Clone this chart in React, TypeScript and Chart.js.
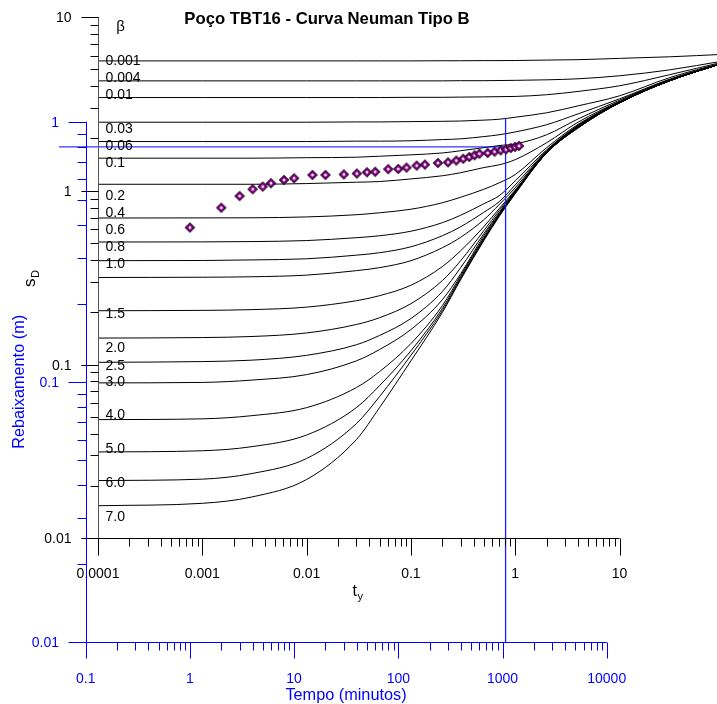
import React, { useEffect, useRef } from 'react';
import { Chart, registerables } from 'chart.js';

Chart.register(...registerables);

// ---------- Type-curve data (Neuman type B): s_D vs t_y ----------
const tY = [1e-4, 1e-3, 3e-3, 0.01, 0.03, 0.05, 0.1, 0.2, 0.3, 0.5, 0.7, 1, 2, 4, 10, 30, 100];

const sD_b0_001 = [5.59, 5.59, 5.59, 5.59, 5.59, 5.59, 5.59, 5.60, 5.60, 5.61, 5.61, 5.62, 5.65, 5.68, 5.78, 5.90, 6.10];
const sD_b0_004 = [4.29, 4.29, 4.29, 4.29, 4.29, 4.29, 4.29, 4.29, 4.30, 4.30, 4.31, 4.32, 4.35, 4.41, 4.59, 4.96, 5.59];
const sD_b0_01 = [3.44, 3.44, 3.44, 3.44, 3.44, 3.44, 3.45, 3.45, 3.46, 3.47, 3.48, 3.49, 3.57, 3.73, 4.02, 4.65, 5.52];
const sD_b0_03 = [2.48, 2.48, 2.48, 2.48, 2.49, 2.49, 2.50, 2.51, 2.52, 2.55, 2.58, 2.65, 2.81, 3.08, 3.52, 4.47, 5.48];
const sD_b0_06 = [1.92, 1.92, 1.92, 1.92, 1.93, 1.93, 1.94, 1.97, 1.99, 2.05, 2.10, 2.18, 2.40, 2.77, 3.38, 4.38, 5.45];
const sD_b0_1 = [1.54, 1.54, 1.54, 1.55, 1.56, 1.58, 1.61, 1.65, 1.70, 1.77, 1.82, 1.86, 2.10, 2.59, 3.32, 4.35, 5.45];
const sD_b0_2 = [1.09, 1.09, 1.09, 1.10, 1.12, 1.13, 1.17, 1.22, 1.27, 1.36, 1.41, 1.51, 1.89, 2.48, 3.27, 4.32, 5.45];
const sD_b0_4 = [0.697, 0.698, 0.699, 0.707, 0.728, 0.747, 0.783, 0.853, 0.918, 1.02, 1.11, 1.24, 1.77, 2.41, 3.25, 4.32, 5.45];
const sD_b0_6 = [0.507, 0.508, 0.510, 0.517, 0.537, 0.551, 0.585, 0.655, 0.723, 0.842, 0.936, 1.14, 1.72, 2.38, 3.25, 4.29, 5.45];
const sD_b0_8 = [0.396, 0.397, 0.400, 0.406, 0.426, 0.440, 0.476, 0.551, 0.621, 0.752, 0.864, 1.08, 1.70, 2.37, 3.23, 4.29, 5.45];
const sD_b1_0 = [0.317, 0.318, 0.320, 0.327, 0.347, 0.361, 0.396, 0.470, 0.540, 0.681, 0.831, 1.04, 1.69, 2.35, 3.23, 4.29, 5.45];
const sD_b1_5 = [0.204, 0.205, 0.207, 0.214, 0.233, 0.249, 0.286, 0.366, 0.452, 0.621, 0.788, 1.01, 1.68, 2.33, 3.21, 4.29, 5.45];
const sD_b2_0 = [0.142, 0.143, 0.145, 0.152, 0.170, 0.186, 0.224, 0.304, 0.396, 0.589, 0.767, 1.00, 1.67, 2.33, 3.21, 4.29, 5.45];
const sD_b2_5 = [0.103, 0.104, 0.106, 0.113, 0.130, 0.147, 0.184, 0.263, 0.361, 0.566, 0.747, 0.993, 1.67, 2.32, 3.21, 4.29, 5.45];
const sD_b3_0 = [0.0784, 0.0789, 0.0814, 0.0875, 0.105, 0.122, 0.159, 0.236, 0.333, 0.551, 0.738, 0.987, 1.65, 2.32, 3.21, 4.29, 5.45];
const sD_b4_0 = [0.0482, 0.0487, 0.0508, 0.0565, 0.0737, 0.0910, 0.132, 0.218, 0.325, 0.537, 0.728, 0.980, 1.65, 2.32, 3.21, 4.29, 5.45];
const sD_b5_0 = [0.0314, 0.0319, 0.0337, 0.0393, 0.0565, 0.0756, 0.120, 0.210, 0.318, 0.530, 0.723, 0.974, 1.65, 2.30, 3.21, 4.29, 5.45];
const sD_b6_0 = [0.0215, 0.0219, 0.0236, 0.0288, 0.0457, 0.0654, 0.113, 0.204, 0.312, 0.523, 0.718, 0.968, 1.65, 2.30, 3.21, 4.29, 5.45];
const sD_b7_0 = [0.0154, 0.0159, 0.0173, 0.0218, 0.0370, 0.0565, 0.105, 0.199, 0.308, 0.516, 0.709, 0.961, 1.65, 2.30, 3.21, 4.29, 5.45];

const betaNames = ['0.001', '0.004', '0.01', '0.03', '0.06', '0.1', '0.2', '0.4', '0.6', '0.8', '1.0', '1.5', '2.0', '2.5', '3.0', '4.0', '5.0', '6.0', '7.0'];
const betaCurves = [sD_b0_001, sD_b0_004, sD_b0_01, sD_b0_03, sD_b0_06, sD_b0_1, sD_b0_2, sD_b0_4, sD_b0_6, sD_b0_8, sD_b1_0, sD_b1_5, sD_b2_0, sD_b2_5, sD_b3_0, sD_b4_0, sD_b5_0, sD_b6_0, sD_b7_0];
// s_D level at which each beta label sits
const betaLabelLevel = [5.67, 4.52, 3.61, 2.30, 1.84, 1.47, 0.948, 0.757, 0.601, 0.483, 0.386, 0.199, 0.127, 0.0999, 0.0801, 0.0522, 0.0333, 0.0211, 0.0135];

// ---------- Field data (blue axes): Tempo (min) vs Rebaixamento (m) ----------
const tempoMin = [1, 2, 3, 4, 5, 6, 8, 10, 15, 20, 30, 40, 50, 60, 80, 100, 120, 150, 180, 240, 300, 360, 420, 480, 540, 600, 720, 840, 960, 1080, 1200, 1320, 1440];
const rebaixM = [0.392, 0.467, 0.518, 0.550, 0.563, 0.580, 0.597, 0.606, 0.624, 0.624, 0.627, 0.632, 0.639, 0.642, 0.657, 0.658, 0.666, 0.678, 0.684, 0.694, 0.698, 0.709, 0.720, 0.732, 0.743, 0.753, 0.758, 0.767, 0.776, 0.783, 0.792, 0.800, 0.807];

// match-point cross (blue axes)
const crossTempo = 1070;
const crossRebaix = 0.8;
const crossHStartTempo = 0.0555;
const crossVTopRebaix = 1.03;

// ---------- Tick values / labels ----------
const tyTicks = [1e-4, 1e-3, 1e-2, 1e-1, 1, 10];
const tyTickLabels = ['0.0001', '0.001', '0.01', '0.1', '1', '10'];
const sdTicks = [0.01, 0.1, 1, 10];
const sdTickLabels = ['0.01', '0.1', '1', '10'];
const tempoTicks = [0.1, 1, 10, 100, 1000, 10000];
const tempoTickLabels = ['0.1', '1', '10', '100', '1000', '10000'];
const rebTicks = [0.01, 0.1, 1];
const rebTickLabels = ['0.01', '0.1', '1'];

const FONT = '"Liberation Sans", Arial, Helvetica, sans-serif';
const BLUE = '#0000ff';

function minorValues(decades: number[]): number[] {
  const out: number[] = [];
  for (let i = 0; i < decades.length - 1; i++) {
    for (let m = 2; m <= 9; m++) out.push(decades[i] * m);
  }
  return out;
}

function makeDiamond(): HTMLCanvasElement {
  const c = document.createElement('canvas');
  c.width = 12;
  c.height = 12;
  const g = c.getContext('2d') as CanvasRenderingContext2D;
  const dia = (r: number, color: string) => {
    g.beginPath();
    g.moveTo(6, 6 - r);
    g.lineTo(6 + r, 6);
    g.lineTo(6, 6 + r);
    g.lineTo(6 - r, 6);
    g.closePath();
    g.fillStyle = color;
    g.fill();
  };
  dia(5.3, '#1a001a');
  dia(4.0, '#8b008b');
  dia(1.7, '#ffffff');
  return c;
}

const axesPlugin = {
  id: 'neumanAxes',
  afterDatasetsDraw(chart: any) {
    const ctx: CanvasRenderingContext2D = chart.ctx;
    const xb = chart.scales.xb;
    const yb = chart.scales.yb;
    const xB = chart.scales.xB;
    const yB = chart.scales.yB;
    const al = (v: number) => Math.round(v) + 0.5;
    const line = (x1: number, y1: number, x2: number, y2: number) => {
      ctx.beginPath();
      ctx.moveTo(x1, y1);
      ctx.lineTo(x2, y2);
      ctx.stroke();
    };
    ctx.save();
    ctx.lineWidth = 1;

    // ----- black axes (t_y, s_D) -----
    const bx0 = al(xb.getPixelForValue(tyTicks[0]));
    const by0 = al(yb.getPixelForValue(sdTicks[0]));
    ctx.strokeStyle = '#555';
    line(bx0, yb.getPixelForValue(sdTicks[sdTicks.length - 1]), bx0, by0);
    ctx.strokeStyle = '#000';
    line(bx0, by0, xb.getPixelForValue(tyTicks[tyTicks.length - 1]), by0);
    sdTicks.forEach((v) => { const y = al(yb.getPixelForValue(v)); line(bx0 - 17, y, bx0, y); });
    minorValues(sdTicks).forEach((v) => { const y = al(yb.getPixelForValue(v)); line(bx0 - 8, y, bx0, y); });
    tyTicks.forEach((v) => { const x = al(xb.getPixelForValue(v)); line(x, by0, x, by0 + 17); });
    minorValues(tyTicks).forEach((v) => { const x = al(xb.getPixelForValue(v)); line(x, by0, x, by0 + 8); });

    ctx.fillStyle = '#000';
    ctx.font = `14px ${FONT}`;
    ctx.textBaseline = 'alphabetic';
    ctx.textAlign = 'right';
    sdTicks.forEach((v, i) => ctx.fillText(sdTickLabels[i], bx0 - 27, yb.getPixelForValue(v) + 5));
    ctx.textAlign = 'center';
    tyTicks.forEach((v, i) => ctx.fillText(tyTickLabels[i], xb.getPixelForValue(v), by0 + 39));

    // axis titles (black)
    ctx.font = `16px ${FONT}`;
    ctx.textAlign = 'left';
    ctx.fillText('t', 352.5, by0 + 57);
    ctx.font = `11px ${FONT}`;
    ctx.fillText('y', 357.5, by0 + 61);
    ctx.save();
    ctx.translate(bx0 - 64, 287);
    ctx.rotate(-Math.PI / 2);
    ctx.font = `17px ${FONT}`;
    ctx.textAlign = 'left';
    ctx.fillText('s', 0, 0);
    ctx.font = `11px ${FONT}`;
    ctx.fillText('D', 9, 4.5);
    ctx.restore();

    // beta labels
    ctx.font = `15px ${FONT}`;
    ctx.textAlign = 'center';
    ctx.fillText('\u03b2', bx0 + 22, 31);
    ctx.font = `14px ${FONT}`;
    ctx.textAlign = 'left';
    betaNames.forEach((b, i) => {
      ctx.fillText(b, bx0 + 7, yb.getPixelForValue(betaLabelLevel[i]) + 5);
    });

    // title
    ctx.font = `bold 16.7px ${FONT}`;
    ctx.textAlign = 'center';
    ctx.fillText('Po\u00e7o TBT16 - Curva Neuman Tipo B', 327, 24);

    // ----- blue axes (Tempo, Rebaixamento) -----
    ctx.strokeStyle = BLUE;
    ctx.fillStyle = BLUE;
    const Bx0 = al(xB.getPixelForValue(tempoTicks[0]));
    const By0 = al(yB.getPixelForValue(rebTicks[0]));
    line(Bx0, yB.getPixelForValue(rebTicks[rebTicks.length - 1]), Bx0, By0);
    line(Bx0, By0, xB.getPixelForValue(tempoTicks[tempoTicks.length - 1]), By0);
    rebTicks.forEach((v) => { const y = al(yB.getPixelForValue(v)); line(Bx0 - 18, y, Bx0, y); });
    minorValues(rebTicks).forEach((v) => { const y = al(yB.getPixelForValue(v)); line(Bx0 - 9, y, Bx0, y); });
    tempoTicks.forEach((v) => { const x = al(xB.getPixelForValue(v)); line(x, By0, x, By0 + 16); });
    minorValues(tempoTicks).forEach((v) => { const x = al(xB.getPixelForValue(v)); line(x, By0, x, By0 + 8); });

    ctx.font = `14px ${FONT}`;
    ctx.textAlign = 'right';
    rebTicks.forEach((v, i) => ctx.fillText(rebTickLabels[i], Bx0 - 27.5, yB.getPixelForValue(v) + 5));
    ctx.textAlign = 'center';
    tempoTicks.forEach((v, i) => ctx.fillText(tempoTickLabels[i], xB.getPixelForValue(v), By0 + 40));

    ctx.font = `16.3px ${FONT}`;
    ctx.fillText('Tempo (minutos)', 346, By0 + 57);
    ctx.save();
    ctx.translate(Bx0 - 67, yB.getPixelForValue(0.1));
    ctx.rotate(-Math.PI / 2);
    ctx.textAlign = 'center';
    ctx.textBaseline = 'middle';
    ctx.fillText('Rebaixamento (m)', 0, 0);
    ctx.restore();

    ctx.restore();
  },
};

export default function App() {
  const canvasRef = useRef<HTMLCanvasElement | null>(null);

  useEffect(() => {
    const canvas = canvasRef.current;
    if (!canvas) return;
    const diamond = makeDiamond();

    const curveDatasets = betaCurves.map((vals, k) => ({
      label: '\u03b2 = ' + betaNames[k],
      data: tY.map((t, i) => ({ x: t, y: vals[i] })),
      xAxisID: 'xb',
      yAxisID: 'yb',
      borderColor: '#000000',
      borderWidth: 1,
      pointRadius: 0,
      fill: false,
      order: 2,
      cubicInterpolationMode: 'monotone' as const,
    }));

    const chart = new Chart(canvas, {
      type: 'line',
      data: {
        datasets: [
          ...curveDatasets,
          {
            label: 'cross-h',
            data: [
              { x: crossHStartTempo, y: crossRebaix },
              { x: crossTempo, y: crossRebaix },
            ],
            xAxisID: 'xB',
            yAxisID: 'yB',
            borderColor: BLUE,
            borderWidth: 1,
            pointRadius: 0,
            order: 1,
            clip: false,
          } as any,
          {
            label: 'cross-v',
            data: [
              { x: crossTempo, y: rebTicks[0] },
              { x: crossTempo, y: crossVTopRebaix },
            ],
            xAxisID: 'xB',
            yAxisID: 'yB',
            borderColor: '#1f1fff',
            borderWidth: 1.3,
            pointRadius: 0,
            order: 1,
            clip: false,
          } as any,
          {
            label: 'Po\u00e7o TBT16',
            data: tempoMin.map((t, i) => ({ x: t, y: rebaixM[i] })),
            xAxisID: 'xB',
            yAxisID: 'yB',
            showLine: false,
            pointStyle: diamond as any,
            pointRadius: 5,
            order: 0,
            clip: false,
          } as any,
        ],
      },
      options: {
        responsive: false,
        animation: false,
        devicePixelRatio: 1,
        layout: { autoPadding: false, padding: { left: 85.7, top: 17, right: 0, bottom: 62 } },
        plugins: {
          legend: { display: false },
          title: { display: false },
          tooltip: { enabled: false },
        },
        events: [],
        scales: {
          xb: { type: 'logarithmic', axis: 'x', position: 'bottom', min: 7.62e-5, max: 86.05, display: false },
          yb: { type: 'logarithmic', axis: 'y', position: 'left', min: 0.002531, max: 10, display: false },
          xB: { type: 'logarithmic', axis: 'x', position: 'bottom', min: 0.1, max: 114400, display: false },
          yB: { type: 'logarithmic', axis: 'y', position: 'left', min: 0.01, max: 2.526, display: false },
        } as any,
      } as any,
      plugins: [axesPlugin],
    });

    return () => {
      chart.destroy();
    };
  }, []);

  return (
    <div style={{ position: 'absolute', left: 0, top: 0, width: 717, height: 704, background: '#ffffff' }}>
      <canvas ref={canvasRef} width={717} height={704} style={{ display: 'block', width: 717, height: 704 }} />
    </div>
  );
}
